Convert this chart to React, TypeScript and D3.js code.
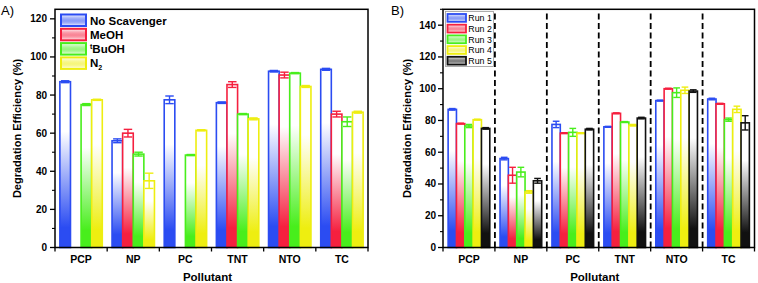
import React from "react";
import * as d3 from "d3";

const categories = ["PCP", "NP", "PC", "TNT", "NTO", "TC"];

// Panel A: scavenger experiments
const scavengerKeys = ["noScav", "meoh", "tbuoh", "n2"];
const noScav = [87, 56, 77.5, 76, 92.5, 93.5];
const noScavErr = [0.5, 1, 2, 0.4, 0.4, 0.5];
const meoh = [0, 60, 0, 85.5, 90.5, 70];
const meohErr = [0, 2, 0, 1.5, 1.5, 1.5];
const tbuoh = [75, 49, 48.5, 70, 91.5, 66];
const tbuohErr = [0.5, 1, 0.3, 0.3, 0.3, 2.5];
const n2 = [77.5, 35, 61.5, 67.5, 84.5, 71];
const n2Err = [0.3, 4, 0.3, 0.5, 0.5, 0.5];
const yTicksA = [0, 20, 40, 60, 80, 100, 120];

// Panel B: reuse runs
const runKeys = ["Run 1", "Run 2", "Run 3", "Run 4", "Run 5"];
const run1 = [87, 56, 77.5, 76, 92.5, 93.5];
const run1Err = [0.5, 0.8, 2, 0.3, 0.3, 0.5];
const run2 = [78, 45.5, 72, 84.5, 100, 90.5];
const run2Err = [0.3, 5, 0.3, 0.3, 0.3, 0.3];
const run3 = [76.5, 47.5, 72.5, 79, 97.5, 80.5];
const run3Err = [1, 3, 2.5, 0.3, 3, 1];
const run4 = [80.5, 35, 72, 77, 99, 87];
const run4Err = [0.3, 0.8, 0.3, 0.5, 2, 2];
const run5 = [75, 42, 74.5, 81.5, 98.5, 78.5];
const run5Err = [0.5, 1.5, 0.5, 0.5, 0.8, 4.5];
const yTicksB = [0, 20, 40, 60, 80, 100, 120, 140];

const FONT = "'Liberation Sans', Arial, sans-serif";
const BLUE = "#2b4cf2";
const RED = "#f5203f";
const GREEN = "#48ee1c";
const YELLOW = "#eeee10";
const BLACK = "#111111";

type Series = { key: string; values: number[]; errs: number[]; color: string; id: string };

function Panel(props: {
  x0: number; x1: number; yTop: number; yBottom: number; yMax: number;
  ticks: number[]; series: Series[]; padOuter: number; dashed: boolean;
  label: string; labelX: number; ylabelOffset: number; tickLabelOffset: number;
}) {
  const { x0, x1, yTop, yBottom, yMax, ticks, series, padOuter, dashed } = props;
  const x = d3.scaleBand<string>().domain(categories).range([x0, x1]).padding(0);
  const inner = d3.scaleBand<string>().domain(series.map(s => s.key)).range([0, x.bandwidth()]).paddingInner(0).paddingOuter(padOuter);
  const y = d3.scaleLinear().domain([0, yMax]).range([yBottom, yTop]);
  const minor = d3.range(0, yMax + 0.01, 10).filter(v => !ticks.includes(v));
  const bw = inner.bandwidth();
  const cap = bw * 0.4;
  const boundaries = categories.map(c => x(c)!).concat([x1]);
  return (
    <g fontFamily={FONT}>
      <text x={props.labelX} y={15} fontSize={13} fill="#000">{props.label}</text>
      {dashed && boundaries.slice(1, -1).map((b, i) => (
        <line key={"d" + i} x1={b} x2={b} y1={yBottom} y2={yTop} stroke="#000" strokeWidth={1.8} strokeDasharray="6,3.5" />
      ))}
      {categories.map((c, ci) => (
        <g key={c}>
          {series.map(s => {
            const bx = x(c)! + inner(s.key)!;
            const v = s.values[ci];
            const e = s.errs[ci];
            const top = y(v);
            const cx = bx + bw / 2;
            return (
              <g key={s.key}>
                <rect x={bx} y={top} width={bw} height={Math.max(0, y(0) - top)} fill={`url(#${s.id})`} stroke={s.color} strokeWidth={1.6} />
                {e > 0 && (
                  <g stroke={s.color} strokeWidth={1.4}>
                    <line x1={cx} x2={cx} y1={y(v + e)} y2={y(v - e)} />
                    <line x1={cx - cap} x2={cx + cap} y1={y(v + e)} y2={y(v + e)} />
                    <line x1={cx - cap} x2={cx + cap} y1={y(v - e)} y2={y(v - e)} />
                  </g>
                )}
              </g>
            );
          })}
        </g>
      ))}
      <rect x={x0} y={yTop} width={x1 - x0} height={yBottom - yTop} fill="none" stroke="#000" strokeWidth={1.5} />
      {ticks.map(t => (
        <g key={"t" + t}>
          <line x1={x0 - 5} x2={x0} y1={y(t)} y2={y(t)} stroke="#000" strokeWidth={1.3} />
          <text x={x0 - props.tickLabelOffset} y={y(t) + 3.5} textAnchor="end" fontSize={10} fontWeight="bold">{t}</text>
        </g>
      ))}
      {minor.map(t => (
        <line key={"m" + t} x1={x0 - 3} x2={x0} y1={y(t)} y2={y(t)} stroke="#000" strokeWidth={1.1} />
      ))}
      {boundaries.map((b, i) => (
        <line key={"xt" + i} x1={b} x2={b} y1={yBottom} y2={yBottom + 4} stroke="#000" strokeWidth={1.3} />
      ))}
      {categories.map(c => (
        <text key={"xl" + c} x={x(c)! + x.bandwidth() / 2} y={yBottom + 15.5} textAnchor="middle" fontSize={10.5} fontWeight="bold">{c}</text>
      ))}
      <text x={(x0 + x1) / 2 - 4} y={yBottom + 33.5} textAnchor="middle" fontSize={11.5} fontWeight="bold">Pollutant</text>
      <text transform={`translate(${x0 - props.ylabelOffset},${(yTop + yBottom) / 2}) rotate(-90)`} textAnchor="middle" fontSize={11} fontWeight="bold" dy="0.35em">Degradation Efficiency (%)</text>
    </g>
  );
}

export default function App() {
  const seriesA: Series[] = [
    { key: scavengerKeys[0], values: noScav, errs: noScavErr, color: BLUE, id: "gB" },
    { key: scavengerKeys[1], values: meoh, errs: meohErr, color: RED, id: "gR" },
    { key: scavengerKeys[2], values: tbuoh, errs: tbuohErr, color: GREEN, id: "gG" },
    { key: scavengerKeys[3], values: n2, errs: n2Err, color: YELLOW, id: "gY" },
  ];
  const seriesB: Series[] = [
    { key: runKeys[0], values: run1, errs: run1Err, color: BLUE, id: "gB" },
    { key: runKeys[1], values: run2, errs: run2Err, color: RED, id: "gR" },
    { key: runKeys[2], values: run3, errs: run3Err, color: GREEN, id: "gG" },
    { key: runKeys[3], values: run4, errs: run4Err, color: YELLOW, id: "gY" },
    { key: runKeys[4], values: run5, errs: run5Err, color: BLACK, id: "gK" },
  ];
  const grads = [["gB", BLUE], ["gR", RED], ["gG", GREEN], ["gY", YELLOW], ["gK", BLACK]];
  const legendA = [
    { color: BLUE, id: "lB", text: <tspan>No Scavenger</tspan> },
    { color: RED, id: "lR", text: <tspan>MeOH</tspan> },
    { color: GREEN, id: "lG", text: <><tspan fontSize={7} dy={-4}>t</tspan><tspan dy={4}>BuOH</tspan></> },
    { color: YELLOW, id: "lY", text: <><tspan>N</tspan><tspan fontSize={7} dy={3}>2</tspan></> },
  ];
  const legendB = [
    { color: BLUE, id: "lB" }, { color: RED, id: "lR" }, { color: GREEN, id: "lG" }, { color: YELLOW, id: "lY" }, { color: BLACK, id: "lK" },
  ];
  return (
    <svg width={758} height={283} style={{ position: "absolute", left: 0, top: 0, background: "#fff" }}>
      <defs>
        {grads.map(([id, c]) => (
          <linearGradient key={id} id={id} x1="0" y1="0" x2="0" y2="1">
            <stop offset="0" stopColor="#fff" />
            <stop offset="0.3" stopColor="#fff" />
            <stop offset="0.88" stopColor={c} />
            <stop offset="1" stopColor={c} />
          </linearGradient>
        ))}
        {grads.map(([id, c]) => (
          <linearGradient key={"l" + id} id={"l" + id.slice(1)} x1="0" y1="0" x2="0" y2="1">
            <stop offset="0" stopColor="#fff" />
            <stop offset="0.55" stopColor={c} stopOpacity={0.55} />
            <stop offset="1" stopColor="#fff" />
          </linearGradient>
        ))}
      </defs>
      <rect x={0} y={0} width={758} height={283} fill="#fff" />
      <Panel x0={55} x1={368} yTop={9.3} yBottom={247.5} yMax={125} ticks={yTicksA} series={seriesA}
        padOuter={0.46} dashed={false} label="A)" labelX={1} ylabelOffset={38} tickLabelOffset={8} />
      <Panel x0={443} x1={754.5} yTop={9.3} yBottom={247.5} yMax={150} ticks={yTicksB} series={seriesB}
        padOuter={0.615} dashed={true} label="B)" labelX={391} ylabelOffset={36} tickLabelOffset={7} />
      <g fontFamily={FONT}>
        {legendA.map((l, i) => (
          <g key={l.id}>
            <rect x={61} y={14.5 + i * 14.3} width={25} height={11.5} fill={`url(#${l.id})`} stroke={l.color} strokeWidth={2} />
            <text x={90} y={24.5 + i * 14.3} fontSize={11.5} fontWeight="bold">{l.text}</text>
          </g>
        ))}
        <rect x={445.5} y={11.5} width={48} height={55} fill="#fff" stroke="#999" strokeWidth={0.8} />
        {legendB.map((l, i) => (
          <g key={l.id}>
            <rect x={447.5} y={14 + i * 10.7} width={18.5} height={7.8} fill={`url(#${l.id})`} stroke={l.color} strokeWidth={1.8} />
            <text x={468.3} y={21.2 + i * 10.7} fontSize={8.8}>{runKeys[i]}</text>
          </g>
        ))}
      </g>
    </svg>
  );
}
